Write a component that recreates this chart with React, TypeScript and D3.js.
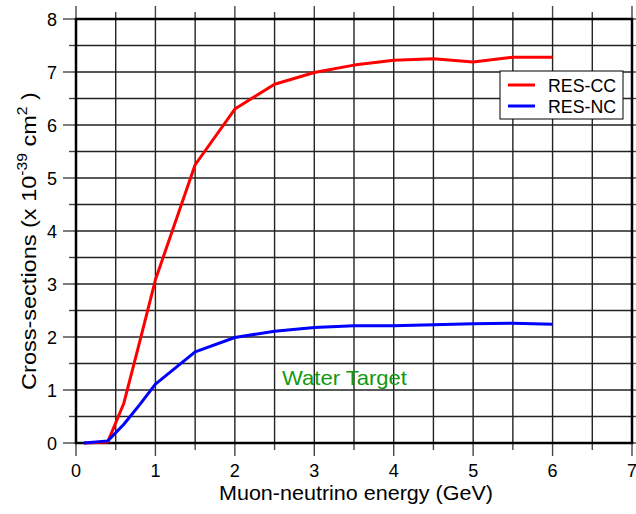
import React, { useEffect, useRef } from "react";
import * as d3 from "d3";

// energies (GeV)
const energies = [0.1, 0.4, 0.6, 0.8, 1.0, 1.5, 2.0, 2.5, 3.0, 3.5, 4.0, 4.5, 5.0, 5.5, 6.0];
// cross-sections, x 10^-39 cm^2
const resCC = [0.0, 0.02, 0.74, 1.9, 3.08, 5.25, 6.3, 6.77, 6.99, 7.13, 7.22, 7.25, 7.19, 7.28, 7.28];
const resNC = [0.0, 0.04, 0.35, 0.72, 1.11, 1.72, 1.99, 2.11, 2.18, 2.21, 2.21, 2.23, 2.25, 2.26, 2.24];
const seriesNames = ["RES-CC", "RES-NC"];
const seriesColors = ["#ff0000", "#0000ff"];
const xTicks = [0, 1, 2, 3, 4, 5, 6, 7];
const yTicks = [0, 1, 2, 3, 4, 5, 6, 7, 8];

const W = 636;
const H = 514;
const FONT = "'Liberation Sans', Arial, sans-serif";

export default function App() {
  const ref = useRef<SVGSVGElement>(null);

  useEffect(() => {
    const svg = d3.select(ref.current);
    svg.selectAll("*").remove();

    const left = 76, right = 632, top = 19, bottom = 443;
    const x = d3.scaleLinear().domain([0, 7]).range([left, right]);
    const y = d3.scaleLinear().domain([0, 8]).range([bottom, top]);

    const halves = d3.range(0, 7.01, 0.5);
    const halvesY = d3.range(0, 8.01, 0.5);

    const g = svg.append("g");

    // grid lines every 0.5
    g.selectAll(".vg")
      .data(halves)
      .enter()
      .append("line")
      .attr("x1", (d) => x(d)).attr("x2", (d) => x(d))
      .attr("y1", top).attr("y2", bottom)
      .attr("stroke", "#222").attr("stroke-width", 1.4);
    g.selectAll(".hg")
      .data(halvesY)
      .enter()
      .append("line")
      .attr("x1", left).attr("x2", right)
      .attr("y1", (d) => y(d)).attr("y2", (d) => y(d))
      .attr("stroke", "#222").attr("stroke-width", 1.4);

    // outward ticks on all sides
    const isMajor = (d: number) => Math.abs(d - Math.round(d)) < 1e-6;
    halves.forEach((d) => {
      const len = isMajor(d) ? 13 : 7;
      g.append("line").attr("x1", x(d)).attr("x2", x(d)).attr("y1", bottom).attr("y2", bottom + len)
        .attr("stroke", "#444").attr("stroke-width", 1.4);
      g.append("line").attr("x1", x(d)).attr("x2", x(d)).attr("y1", top).attr("y2", top - len)
        .attr("stroke", "#444").attr("stroke-width", 1.4);
    });
    halvesY.forEach((d) => {
      const len = isMajor(d) ? 13 : 7;
      g.append("line").attr("x1", left).attr("x2", left - len).attr("y1", y(d)).attr("y2", y(d))
        .attr("stroke", "#444").attr("stroke-width", 1.4);
      g.append("line").attr("x1", right).attr("x2", right + len).attr("y1", y(d)).attr("y2", y(d))
        .attr("stroke", "#444").attr("stroke-width", 1.4);
    });

    // frame
    g.append("rect")
      .attr("x", left).attr("y", top)
      .attr("width", right - left).attr("height", bottom - top)
      .attr("fill", "none").attr("stroke", "#000").attr("stroke-width", 2.5);

    // tick labels
    g.selectAll(".xl")
      .data(xTicks)
      .enter()
      .append("text")
      .attr("x", (d) => x(d)).attr("y", 477)
      .attr("text-anchor", "middle")
      .attr("font-family", FONT).attr("font-size", 18)
      .text((d) => d);
    g.selectAll(".yl")
      .data(yTicks)
      .enter()
      .append("text")
      .attr("x", 57).attr("y", (d) => y(d) + 6.5)
      .attr("text-anchor", "end")
      .attr("font-family", FONT).attr("font-size", 18)
      .text((d) => d);

    // lines
    const line = d3.line<[number, number]>()
      .x((d) => x(d[0]))
      .y((d) => y(d[1]));
    [resCC, resNC].forEach((vals, i) => {
      g.append("path")
        .datum(energies.map((e, j) => [e, vals[j]] as [number, number]))
        .attr("d", line)
        .attr("fill", "none")
        .attr("stroke", seriesColors[i])
        .attr("stroke-width", 3)
        .attr("stroke-linejoin", "round");
    });

    // legend
    const lg = g.append("g");
    lg.append("rect")
      .attr("x", 500).attr("y", 71).attr("width", 123).attr("height", 48)
      .attr("fill", "#fff").attr("stroke", "#000").attr("stroke-width", 1);
    seriesNames.forEach((name, i) => {
      const yy = 85 + i * 21;
      lg.append("line")
        .attr("x1", 508).attr("x2", 535).attr("y1", yy).attr("y2", yy)
        .attr("stroke", seriesColors[i]).attr("stroke-width", 3);
      lg.append("text")
        .attr("x", 548).attr("y", yy + 7)
        .attr("font-family", FONT).attr("font-size", 19)
        .attr("textLength", 68).attr("lengthAdjust", "spacingAndGlyphs")
        .text(name);
    });

    // annotation
    g.append("text")
      .attr("x", 282).attr("y", 385)
      .attr("font-family", FONT).attr("font-size", 21)
      .attr("textLength", 125).attr("lengthAdjust", "spacingAndGlyphs")
      .attr("fill", "#109a10")
      .text("Water Target");

    // axis titles
    g.append("text")
      .attr("x", 219).attr("y", 500)
      .attr("font-family", FONT).attr("font-size", 20)
      .attr("textLength", 274).attr("lengthAdjust", "spacingAndGlyphs")
      .text("Muon-neutrino energy (GeV)");

    const yt = g.append("text")
      .attr("transform", "translate(36,241) rotate(-90) scale(1.12,1)")
      .attr("text-anchor", "middle")
      .attr("font-family", FONT).attr("font-size", 21);
    yt.append("tspan").text("Cross-sections (x 10");
    yt.append("tspan").attr("dy", -9).attr("font-size", 14).text("-39");
    yt.append("tspan").attr("dy", 9).text(" cm");
    yt.append("tspan").attr("dy", -9).attr("font-size", 14).text("2");
    yt.append("tspan").attr("dy", 9).text(" )");
  }, []);

  return (
    <svg
      ref={ref}
      width={W}
      height={H}
      style={{ position: "absolute", left: 0, top: 0, background: "#fff" }}
    />
  );
}
